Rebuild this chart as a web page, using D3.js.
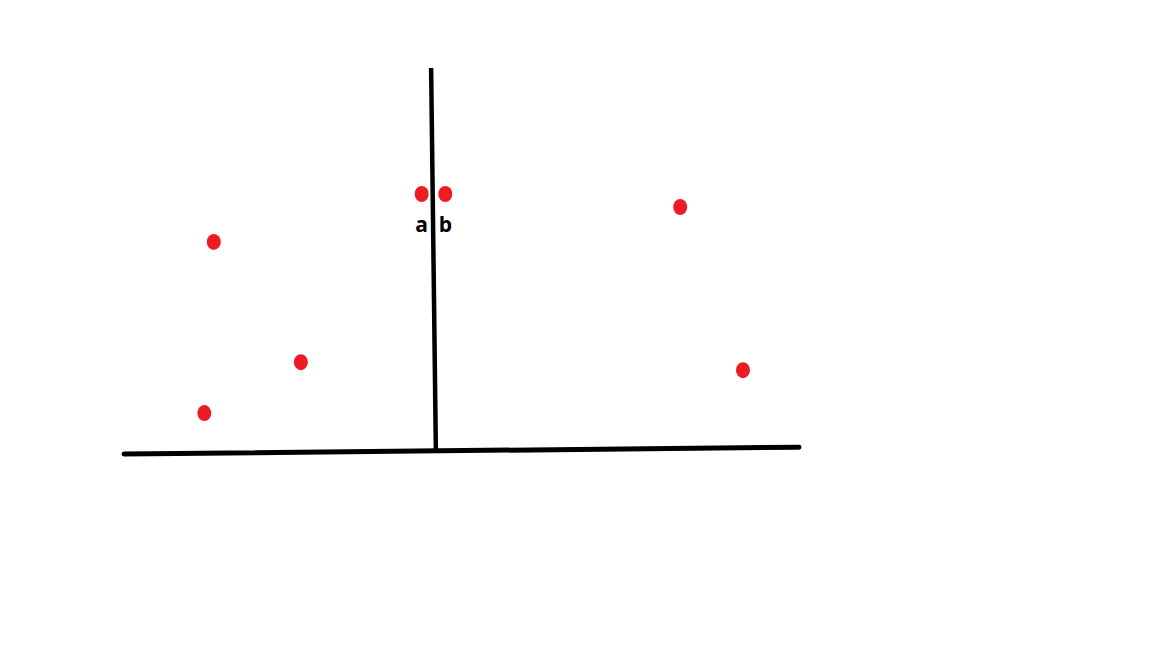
<!DOCTYPE html>
<html>
<head>
<meta charset="utf-8">
<script src="https://cdn.jsdelivr.net/npm/d3@7"></script>
<style>
html,body{margin:0;padding:0;background:#fff;}
svg{display:block;}
</style>
</head>
<body>
<svg id="chart" width="1152" height="648"></svg>
<script>
// Data (chart units: x 0..100 along the horizontal line, y 0..100 up the vertical line)
const pointX = [13.3, 26.2, 11.9, 44.1, 47.6, 82.4, 91.7];
const pointY = [54.6, 23.2, 9.9, 67.1, 67.1, 63.7, 21.1];
const pointLabels = ["", "", "", "a", "b", "", ""];
// hand-drawn axis lines (endpoints in chart units)
const hAxisX = [0, 100];
const hAxisY = [-0.8, 1.0];
const vAxisX = [45.5, 46.2];
const vAxisY = [100, 0.5];

const svg = d3.select("#chart");
const x = d3.scaleLinear().domain([0, 100]).range([124, 799]);
const y = d3.scaleLinear().domain([0, 100]).range([451, 68]);

const line = d3.line().x(d => x(d[0])).y(d => y(d[1]));

svg.append("path")
  .datum(d3.zip(hAxisX, hAxisY))
  .attr("d", line)
  .attr("fill", "none")
  .attr("stroke", "#000")
  .attr("stroke-width", 5)
  .attr("stroke-linecap", "round");

svg.append("path")
  .datum(d3.zip(vAxisX, vAxisY))
  .attr("d", line)
  .attr("fill", "none")
  .attr("stroke", "#000")
  .attr("stroke-width", 4.5)
  .attr("stroke-linecap", "butt");

const pts = pointX.map((v, i) => ({x: v, y: pointY[i], label: pointLabels[i]}));

svg.selectAll("ellipse.pt")
  .data(pts)
  .enter().append("ellipse")
  .attr("class", "pt")
  .attr("cx", d => x(d.x))
  .attr("cy", d => y(d.y))
  .attr("rx", 7)
  .attr("ry", 8)
  .attr("fill", "#ED1C24");

svg.selectAll("text.lbl")
  .data(pts.filter(d => d.label))
  .enter().append("text")
  .attr("class", "lbl")
  .attr("x", d => x(d.x))
  .attr("y", d => y(d.y) + 38)
  .attr("text-anchor", "middle")
  .attr("font-family", "Open Sans, Liberation Sans, sans-serif")
  .attr("font-weight", "bold")
  .attr("font-size", 21)
  .attr("fill", "#000")
  .text(d => d.label);
</script>
</body>
</html>
